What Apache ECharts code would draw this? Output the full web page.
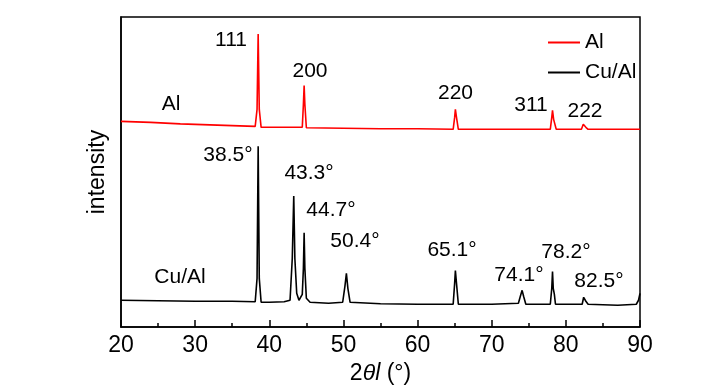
<!DOCTYPE html>
<html>
<head>
<meta charset="utf-8">
<script src="https://cdn.jsdelivr.net/npm/echarts@6/dist/echarts.min.js"></script>
<style>
html,body{margin:0;padding:0;background:#fff;}
#chart{width:727px;height:390px;}
</style>
</head>
<body>
<div id="chart"></div>
<script>
// x-axis ticks (2θ, degrees)
const xTicks = [20, 30, 40, 50, 60, 70, 80, 90];

// Al pattern (offset upward), [2θ, intensity a.u.]
const alData = [
  [20,207],[24,206],[28,204.5],[32,203.5],[36,202.5],[38.1,202],[38.35,219],[38.5,295],[38.65,219],[38.9,201],
  [42,201],[44.45,201],[44.6,224],[44.7,243],[44.8,224],[45.0,200.5],[50,200],[55,199.5],[60,199.5],
  [64.8,199],[65.0,211],[65.1,219],[65.25,211],[65.5,199],[70,199],[75,199],[77.9,199],[78.1,211],[78.2,218],
  [78.35,209],[78.7,199],[82.1,199],[82.35,204],[82.5,205],[82.7,201],[83,199],[86,199],[90,199]
];

// Cu/Al pattern, [2θ, intensity a.u.]
const cuAlData = [
  [20,27],[25,26.5],[30,26],[35,26],[38.1,25.5],[38.35,49],[38.5,182],[38.65,49],[38.9,25],[40,25],
  [42,25.5],[42.8,27],[43.1,69],[43.3,132],[43.45,69],[43.7,34],[44.0,27],[44.45,33],[44.6,59],[44.7,95],
  [44.8,59],[45.0,29],[45.5,25],[48,24],[49.9,25],[50.2,41],[50.4,54],[50.6,39],[50.9,25],[55,23.5],
  [60,23],[64.8,23],[65.0,44],[65.1,57],[65.25,44],[65.5,23],[70,23],[73.6,24],[73.9,32],[74.1,37],
  [74.3,31],[74.6,23],[77.9,23],[78.1,39],[78.2,56],[78.3,39],[78.45,33],[78.6,23],[82.2,23],[82.4,30],
  [82.5,31],[82.7,26],[83,23],[87,22],[89.5,23],[89.8,27],[90,34]
];

// Peak / trace annotations: [2θ, intensity, text]
const annotations = [
  [34.84,289,'111'],[45.49,257,'200'],[26.74,224,'Al'],[65.12,235,'220'],[75.30,223,'311'],[82.58,217,'222'],
  [34.43,173,'38.5°'],[45.36,155,'43.3°'],[48.32,118,'44.7°'],[51.56,86,'50.4°'],[27.96,50,'Cu/Al'],
  [64.65,77,'65.1°'],[73.68,52,'74.1°'],[80.02,75,'78.2°'],[84.47,46,'82.5°']
];

const seriesNames = ['Al', 'Cu/Al'];

const font = '"Liberation Sans", Arial, sans-serif';
const fs = 21;

const chart = echarts.init(document.getElementById('chart'));
chart.setOption({
  animation: false,
  grid: {left: 121, right: 87, top: 17, bottom: 61, show: true, borderColor: '#000', borderWidth: 1.5},
  legend: {
    data: seriesNames,
    orient: 'vertical',
    left: 543, top: 27,
    icon: 'rect', itemWidth: 32, itemHeight: 2, itemGap: 9,
    textStyle: {fontFamily: font, fontSize: fs, color: '#000'}
  },
  xAxis: [{
    type: 'value', min: xTicks[0], max: xTicks[xTicks.length - 1], interval: 10,
    axisLine: {show: true, onZero: false, lineStyle: {color: '#000', width: 1.5}},
    axisTick: {show: true, inside: true, length: 7, lineStyle: {color: '#000', width: 1.5}},
    minorTick: {show: true, splitNumber: 2, length: 4, lineStyle: {color: '#000', width: 1.5}},
    splitLine: {show: false},
    axisLabel: {margin: 7, fontFamily: font, fontSize: 23, color: '#000'},
    name: '{a|2}{b|θl}{a| (°)}',
    nameLocation: 'middle', nameGap: 31,
    nameTextStyle: {
      rich: {
        a: {fontFamily: font, fontSize: 23, color: '#000'},
        b: {fontFamily: font, fontSize: 23, color: '#000', fontStyle: 'italic'}
      }
    }
  }],
  yAxis: [{
    type: 'value', min: 0, max: 312,
    axisLine: {show: true, onZero: false, lineStyle: {color: '#000', width: 1.5}},
    axisTick: {show: false}, axisLabel: {show: false}, splitLine: {show: false},
    name: 'intensity', nameLocation: 'middle', nameGap: 12,
    nameTextStyle: {fontFamily: font, fontSize: 23, color: '#000'}
  }],
  series: [
    {name: seriesNames[0], type: 'line', data: alData, symbol: 'none', lineStyle: {color: '#f00', width: 1.6}, itemStyle: {color: '#f00'}},
    {name: seriesNames[1], type: 'line', data: cuAlData, symbol: 'none', lineStyle: {color: '#000', width: 1.6}, itemStyle: {color: '#000'}},
    {
      name: 'labels', type: 'scatter', symbolSize: 0, silent: true, itemStyle: {opacity: 1},
      data: annotations.map(a => ({value: [a[0], a[1]], name: a[2]})),
      label: {show: true, position: 'inside', formatter: p => p.name, fontFamily: font, fontSize: fs, color: '#000', opacity: 1}
    }
  ]
});
</script>
</body>
</html>
